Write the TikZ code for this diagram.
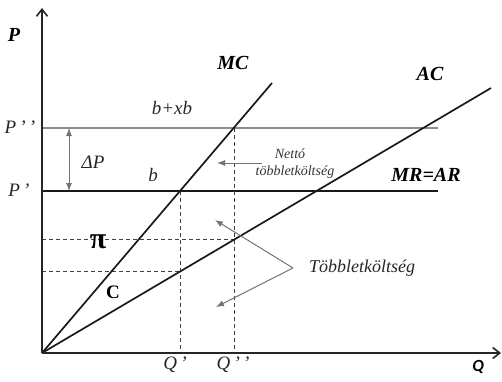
\documentclass[tikz,border=0pt]{standalone}
\usepackage{fontspec}
\setmainfont{Liberation Serif}
\newfontfamily\carl{Carlito}
\usetikzlibrary{arrows.meta}
\begin{document}
\begin{tikzpicture}[x=1pt,y=-1pt,
  axis/.style={line width=2pt,draw=black!85,-{Straight Barb[length=7pt,width=11pt,line width=1.6pt]}},
  curve/.style={line width=1.7pt,draw=black!90},
  guide/.style={dashed,dash pattern=on 4pt off 3pt,line width=0.9pt,draw=black!75},
  pointer/.style={line width=1pt,draw=black!55,-{Latex[length=8pt,width=6pt]}},
  lbl/.style={inner sep=0pt,font=\fontsize{19}{22}\selectfont\itshape,text=black!85},
  blbl/.style={inner sep=0pt,font=\fontsize{20}{23}\selectfont\bfseries\itshape},
  small/.style={inner sep=0pt,font=\fontsize{14}{16}\selectfont\itshape,text=black!80}]
\useasboundingbox (0,0) rectangle (502,381);
% coordinates
\coordinate (O) at (42,353);
\coordinate (Ytop) at (42,8);
\coordinate (Xend) at (501,353);
\coordinate (PppL) at (42,128);
\coordinate (PppR) at (438,128);
\coordinate (PpL) at (42,191);
\coordinate (PpR) at (438,191);
\coordinate (MCend) at (272,83);
\coordinate (ACend) at (491,88);
\coordinate (A) at (180,191);
\coordinate (B) at (234,128);
\coordinate (Qp) at (180,353);
\coordinate (Qpp) at (234,353);
\coordinate (C1) at (180,271.6);
\coordinate (C2) at (234,239.7);
\coordinate (Y1) at (42,271.6);
\coordinate (Y2) at (42,239.7);
\coordinate (DPt) at (69,128);
\coordinate (DPb) at (69,191);
\coordinate (Ns) at (262,163);
\coordinate (Ne) at (217,163);
\coordinate (Tv) at (293,268);
\coordinate (Tu) at (215,220);
\coordinate (Td) at (216,307);
% horizontal price lines
\draw[line width=1.8pt,draw=black!45] (PppL) -- (PppR);
\draw[line width=1.3pt,draw=black!90] (PpL) -- (PpR);
% dashed guides
\draw[guide] (A) -- (Qp);
\draw[guide] (B) -- (Qpp);
\draw[guide] (Y2) -- (C2);
\draw[guide] (Y1) -- (C1);
% curves
\draw[curve] (O) -- (MCend);
\draw[curve] (O) -- (ACend);
% axes
\draw[axis] (O) -- (Ytop);
\draw[axis] (O) -- (Xend);
% Delta P arrow
\draw[line width=1pt,draw=black!55,{Latex[length=8pt,width=6pt]}-{Latex[length=8pt,width=6pt]}] (DPt) -- (DPb);
% pointers
\draw[pointer] (Ns) -- (Ne);
\draw[pointer] (Tv) -- (Tu);
\draw[pointer] (Tv) -- (Td);
% labels
\node[blbl] (lP) at (14,35) {P};
\node[inner sep=0pt,font=\fontsize{17}{19}\selectfont\carl\bfseries\itshape] (lQ) at (478,367) {Q};
\node[blbl] (lMC) at (233,63) {MC};
\node[blbl] (lAC) at (430,74) {AC};
\node[blbl] (lMR) at (426,175) {MR=AR};
\node[lbl] (lbxb) at (172,108) {b+xb};
\node[lbl] (lb) at (153,175) {b};
\node[lbl] (lPpp) at (20,127) {P\,’\,’};
\node[lbl] (lPp) at (19,190) {P\,’};
\node[lbl] (lDP) at (93,162) {ΔP};
\node[inner sep=0pt,font=\fontsize{30}{32}\selectfont\bfseries] (lpi) at (98,242) {π};
\node[inner sep=0pt,font=\fontsize{19}{22}\selectfont\bfseries] (lC) at (113,292) {C};
\node[lbl] (lQp) at (175,365) {Q\,’};
\node[lbl] (lQpp) at (233,365) {Q\,’\,’};
\node[small] (lN1) at (290,154) {Nettó};
\node[small] (lN2) at (295,172) {többletköltség};
\node[lbl,font=\fontsize{18}{21}\selectfont\itshape] (lT) at (362,268) {Többletköltség};
\end{tikzpicture}
\end{document}
